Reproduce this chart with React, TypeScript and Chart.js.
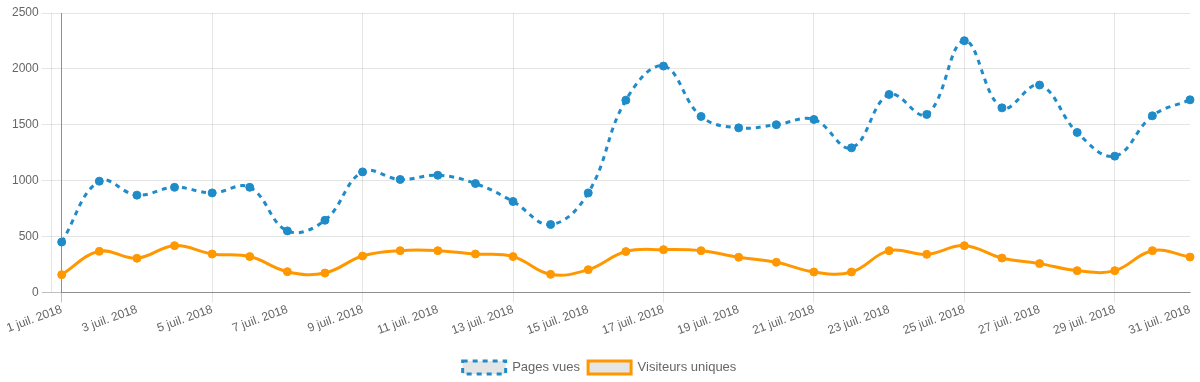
import React, { useEffect, useRef } from "react";
import { Chart, registerables } from "chart.js";

Chart.register(...registerables);

const days: string[] = Array.from({ length: 31 }, (_, i) => `${i + 1} juil. 2018`);

const pagesVues: number[] = [
  450, 995, 870, 940, 890, 940, 550, 645, 1078, 1010, 1048, 974, 813, 607, 890, 1720,
  2025, 1574, 1472, 1500, 1547, 1293, 1771, 1592, 2252, 1651, 1855, 1431, 1219, 1580, 1723,
];

const visiteursUniques: number[] = [
  158, 367, 305, 418, 343, 320, 185, 173, 325, 373, 373, 343, 320, 161, 203, 365,
  382, 373, 314, 269, 182, 182, 373, 340, 418, 307, 257, 194, 194, 373, 316,
];

const yTicks = { min: 0, max: 2500, step: 500 };

const GRID = "rgba(0,0,0,0.1)";
const ZERO = "rgba(0,0,0,0.25)";
const BLUE = "#1f8bc9";
const ORANGE = "#ff9800";

const leftLine = {
  id: "leftLine",
  beforeDatasetsDraw(chart: any) {
    const { ctx, chartArea } = chart;
    ctx.save();
    ctx.strokeStyle = GRID;
    ctx.lineWidth = 1;
    ctx.beginPath();
    ctx.moveTo(Math.round(chartArea.left) - 10.5, chartArea.top);
    ctx.lineTo(Math.round(chartArea.left) - 10.5, chartArea.bottom);
    ctx.stroke();
    ctx.restore();
  },
};

export default function App() {
  const ref = useRef<HTMLCanvasElement | null>(null);

  useEffect(() => {
    if (!ref.current) return;
    const font = { family: "'Liberation Sans', Arial, sans-serif", size: 12 };
    const legendFont = { family: "'Liberation Sans', Arial, sans-serif", size: 13 };
    const chart = new Chart(ref.current, {
      type: "line",
      data: {
        labels: days,
        datasets: [
          {
            label: "Pages vues",
            data: pagesVues,
            borderColor: BLUE,
            backgroundColor: "rgba(0,0,0,0.1)",
            pointBackgroundColor: BLUE,
            pointBorderColor: BLUE,
            borderWidth: 3,
            borderDash: [5, 5],
            pointRadius: 4,
            pointBorderWidth: 1,
            tension: 0.4,
            fill: false,
          },
          {
            label: "Visiteurs uniques",
            data: visiteursUniques,
            borderColor: ORANGE,
            backgroundColor: "rgba(0,0,0,0.1)",
            pointBackgroundColor: ORANGE,
            pointBorderColor: ORANGE,
            borderWidth: 3,
            pointRadius: 4,
            pointBorderWidth: 1,
            tension: 0.4,
            fill: false,
          },
        ],
      },
      options: {
        animation: false,
        responsive: true,
        maintainAspectRatio: false,
        layout: { padding: { left: 9, right: 10, top: 13, bottom: -2 } },
        plugins: {
          legend: {
            position: "bottom",
            labels: { color: "#666", font: legendFont, boxWidth: 43, boxHeight: 13, padding: 8 },
          },
          tooltip: { enabled: false },
        },
        scales: {
          x: {
            afterFit: (scale: any) => {
              scale.height += 15;
            },
            ticks: {
              color: "#666",
              font,
              autoSkip: false,
              minRotation: 20,
              maxRotation: 20,
              padding: 0,
              callback: (_v: any, i: number) => (i % 2 === 0 ? days[i] : null),
            },
            grid: {
              tickLength: 10,
              color: (c: any) => (c.index % 2 !== 0 ? "transparent" : c.index === 0 ? ZERO : GRID),
            },
            border: { color: ZERO },
          },
          y: {
            min: yTicks.min,
            max: yTicks.max,
            ticks: {
              stepSize: yTicks.step,
              color: "#666",
              font,
              padding: 3,
              callback: (v: any) => String(v),
            },
            grid: {
              tickLength: 20,
              color: (c: any) => (c.tick && c.tick.value === 0 ? ZERO : GRID),
            },
            border: { color: ZERO },
          },
        },
      },
      plugins: [leftLine],
    });
    return () => chart.destroy();
  }, []);

  return (
    <div style={{ position: "absolute", left: 0, top: 0, width: 1200, height: 382, background: "#fff" }}>
      <canvas ref={ref} />
    </div>
  );
}
